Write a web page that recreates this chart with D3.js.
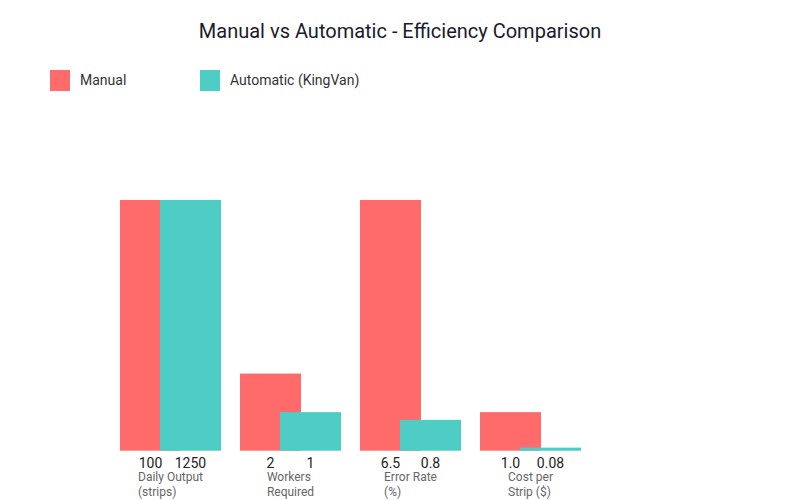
<!DOCTYPE html>
<html>
<head>
<meta charset="utf-8">
<script src="https://cdn.jsdelivr.net/npm/d3@7"></script>
<style>
  body { margin: 0; background: #fff; }
  text { font-family: Roboto, Inter, sans-serif; }
</style>
</head>
<body>
<div id="chart"></div>
<script>
const categories = ["Daily Output (strips)", "Workers Required", "Error Rate (%)", "Cost per Strip ($)"];
const categoryLines = [["Daily Output", "(strips)"], ["Workers", "Required"], ["Error Rate", "(%)"], ["Cost per", "Strip ($)"]];
const seriesNames = ["Manual", "Automatic (KingVan)"];
const manualValues = [100, 2, 6.5, 1.0];
const automaticValues = [1250, 1, 0.8, 0.08];
const manualLabels = ["100", "2", "6.5", "1.0"];
const automaticLabels = ["1250", "1", "0.8", "0.08"];
const colors = ["#ff6b6b", "#4ecdc4"];

const width = 800, height = 500;
const svg = d3.select("#chart").append("svg")
  .attr("width", width)
  .attr("height", height);

svg.append("text")
  .attr("x", width / 2)
  .attr("y", 38)
  .attr("text-anchor", "middle")
  .attr("font-size", 20)
  .attr("fill", "#1a1a2e")
  .text("Manual vs Automatic - Efficiency Comparison");

// legend
const legend = svg.selectAll(".legend")
  .data(seriesNames)
  .enter().append("g")
  .attr("transform", (d, i) => `translate(${50 + i * 150},70)`);
legend.append("rect").attr("width", 20).attr("height", 21).attr("fill", (d, i) => colors[i]);
legend.append("text")
  .attr("x", 30).attr("y", 15)
  .attr("font-size", 14).attr("fill", "#333")
  .text(d => d);

const x = d3.scaleBand().domain(categories).range([120, 600]);
const xSub = d3.scaleBand().domain(seriesNames).range([0, 80]);
const barWidth = 61;
// values beyond the axis top are cut at the top of the plot
const y = d3.scaleLinear().domain([0, 6.5]).range([450.7, 200]).clamp(true);

const rows = categories.map((c, i) => ({
  cat: c,
  lines: categoryLines[i],
  vals: [manualValues[i], automaticValues[i]],
  labels: [manualLabels[i], automaticLabels[i]]
}));

const groups = svg.selectAll(".grp")
  .data(rows)
  .enter().append("g")
  .attr("transform", d => `translate(${x(d.cat)},0)`);

groups.selectAll("rect")
  .data(d => d.vals.map((v, i) => ({ v, s: seriesNames[i], i })))
  .enter().append("rect")
  .attr("x", d => xSub(d.s))
  .attr("y", d => y(d.v))
  .attr("width", barWidth)
  .attr("height", d => y(0) - y(d.v))
  .attr("fill", d => colors[d.i]);

groups.selectAll(".val")
  .data(d => d.labels.map((l, i) => ({ l, s: seriesNames[i] })))
  .enter().append("text")
  .attr("x", d => xSub(d.s) + barWidth / 2)
  .attr("y", 468)
  .attr("text-anchor", "middle")
  .attr("font-size", 14)
  .attr("fill", "#222")
  .text(d => d.l);

groups.each(function (d) {
  const g = d3.select(this);
  const t = g.append("text").attr("font-size", 12).attr("fill", "#666");
  t.selectAll("tspan")
    .data(d.lines)
    .enter().append("tspan")
    .attr("y", (l, i) => 481 + i * 15)
    .text(l => l);
  const w = d3.max(t.selectAll("tspan").nodes(), n => n.getComputedTextLength());
  t.selectAll("tspan").attr("x", 50.5 - w / 2);
});
</script>
</body>
</html>
